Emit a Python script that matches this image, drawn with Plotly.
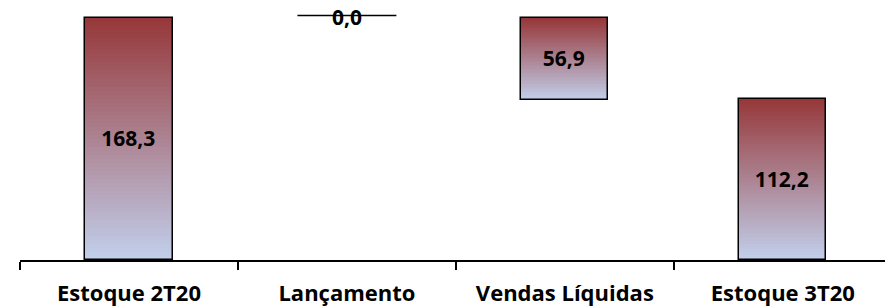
import plotly.graph_objects as go

categories = ["Estoque 2T20", "Lançamento", "Vendas Líquidas", "Estoque 3T20"]
values = [168.3, 0.0, -56.9, 112.2]
labels = ["168,3", "0,0", "56,9", "112,2"]
kinds = ["total", "relative", "relative", "total"]

TOP = (150, 55, 56)
BOT = (194, 208, 237)
N = 60
FONT = "Open Sans"

def mix(f):
    c = [round(BOT[i] + (TOP[i] - BOT[i]) * f) for i in range(3)]
    return f"rgb({c[0]},{c[1]},{c[2]})"

# compute waterfall extents
bottoms, tops = [], []
running = 0.0
for v, k in zip(values, kinds):
    if k == "total":
        b, t = 0.0, v
        running = v
    else:
        start = running
        running = running + v
        b, t = min(start, running), max(start, running)
    bottoms.append(b)
    tops.append(t)

fig = go.Figure()
BW = 0.4
for i, cat in enumerate(categories):
    b, t = bottoms[i], tops[i]
    h = t - b
    if h <= 0:
        continue
    xs, bs, ys, cs = [], [], [], []
    for k in range(N):
        xs.append(cat)
        bs.append(b + h * k / N)
        ys.append(h / N * 1.02)
        cs.append(mix((k + 0.5) / N))
    fig.add_trace(go.Bar(x=xs, y=ys, base=bs, width=BW,
                         marker=dict(color=cs, line=dict(width=0)),
                         showlegend=False, hoverinfo="skip"))
    fig.add_trace(go.Bar(x=[cat], y=[h], base=[b], width=BW,
                         marker=dict(color="rgba(0,0,0,0)", line=dict(color="black", width=1.5)),
                         text=[labels[i]], textposition="inside", insidetextanchor="middle",
                         constraintext="none",
                         textfont=dict(family=FONT, size=21, color="black", weight="bold"),
                         showlegend=False, hoverinfo="skip"))

# zero-height bar drawn as a line
for i, cat in enumerate(categories):
    if tops[i] - bottoms[i] == 0:
        yv = tops[i] + 1.7
        fig.add_trace(go.Scatter(x=[i - 0.227, i + 0.227], y=[yv, yv], mode="lines",
                                 line=dict(color="black", width=1.5),
                                 showlegend=False, hoverinfo="skip", xaxis="x2"))
        fig.add_annotation(x=i, y=yv, xref="x2", yref="y", text=labels[i], showarrow=False,
                           yshift=-2, borderpad=0,
                           font=dict(family=FONT, size=21, color="black", weight="bold"))

fig.update_layout(
    width=885, height=306,
    margin=dict(l=20, r=0, t=8, b=46),
    paper_bgcolor="white", plot_bgcolor="white",
    barmode="overlay", bargap=0,
    xaxis=dict(categoryorder="array", categoryarray=categories, range=[-0.5, 3.469],
               showline=True, linecolor="black", linewidth=1.5,
               ticks="outside", tickson="boundaries", ticklen=8, tickcolor="black", tickwidth=1.5,
               ticklabelstandoff=13,
               tickfont=dict(family=FONT, size=22, color="black", weight="bold"),
               showgrid=False, zeroline=False),
    xaxis2=dict(overlaying="x", range=[-0.5, 3.469], visible=False),
    yaxis=dict(range=[0, 175.2], visible=False, showgrid=False, zeroline=False),
)

fig.write_html("out.html", config={"displayModeBar": False},
               post_script="document.body.style.margin='0';")
